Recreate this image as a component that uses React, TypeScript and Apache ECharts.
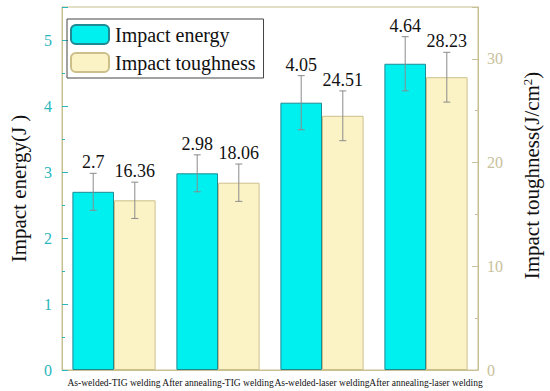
import React, { useEffect, useRef } from "react";
import * as echarts from "echarts";

const categories = [
  "As-welded-TIG welding",
  "After annealing-TIG welding",
  "As-welded-laser welding",
  "After annealing-laser welding",
];
const energyValues = [2.7, 2.98, 4.05, 4.64];
const energyErrors = [0.28, 0.28, 0.41, 0.41];
const toughnessValues = [16.36, 18.06, 24.51, 28.23];
const toughnessErrors = [1.75, 1.8, 2.4, 2.4];
const leftTicks = { min: 0, max: 5.5, interval: 1 };
const rightTicks = { min: 0, max: 35, interval: 10 };

const SERIF = "Liberation Serif";

function errorSeries(values: number[], errors: number[], yAxisIndex: number, offset: number) {
  return {
    type: "custom",
    yAxisIndex,
    z: 5,
    silent: true,
    data: values.map((v, i) => [i, v - errors[i], v + errors[i], v]),
    renderItem: (params: any, api: any) => {
      const idx = api.value(0);
      const lo = api.coord([idx, api.value(1)]);
      const hi = api.coord([idx, api.value(2)]);
      const band = api.size([1, 0])[0];
      const x = lo[0] + offset * band;
      const cap = 3.5;
      const st = { stroke: "#8a8a8a", lineWidth: 1 };
      return {
        type: "group",
        children: [
          { type: "line", shape: { x1: x, y1: lo[1], x2: x, y2: hi[1] }, style: st },
          { type: "line", shape: { x1: x - cap, y1: lo[1], x2: x + cap, y2: lo[1] }, style: st },
          { type: "line", shape: { x1: x - cap, y1: hi[1], x2: x + cap, y2: hi[1] }, style: st },
          {
            type: "text",
            style: {
              text: String(api.value(3)),
              x: x,
              y: hi[1] - 2,
              align: "center",
              verticalAlign: "bottom",
              fontSize: 18,
              fontFamily: SERIF,
              fill: "#111",
            },
          },
        ],
      };
    },
  };
}

export default function App() {
  const ref = useRef<HTMLDivElement>(null);
  useEffect(() => {
    if (!ref.current) return;
    const chart = echarts.init(ref.current, null, { renderer: "svg" });
    chart.setOption({
      animation: false,
      backgroundColor: "#ffffff",
      textStyle: { fontFamily: SERIF },
      grid: {
        left: 46,
        right: 55,
        top: 7,
        bottom: 21,
        show: true,
        borderColor: "#c8c08f",
        borderWidth: 1,
        backgroundColor: "transparent",
      },
      legend: {
        data: ["Impact energy", "Impact toughness"],
        orient: "vertical",
        left: 67,
        top: 19,
        itemWidth: 38,
        itemHeight: 19,
        itemGap: 7,
        padding: [5, 8, 5, 3],
        borderColor: "#444",
        borderWidth: 1,
        textStyle: { fontSize: 20, fontFamily: SERIF, color: "#111", padding: [0, 0, 0, 1] },
      },
      xAxis: {
        type: "category",
        data: categories,
        axisLine: { lineStyle: { color: "#c8c08f" } },
        axisTick: { show: false },
        axisLabel: { fontSize: 9.5, fontFamily: SERIF, color: "#111", margin: 8, interval: 0 },
      },
      yAxis: [
        {
          type: "value",
          position: "left",
          min: leftTicks.min,
          max: leftTicks.max,
          interval: leftTicks.interval,
          name: "Impact energy(J )",
          nameLocation: "middle",
          nameRotate: 90,
          nameGap: 33,
          nameTextStyle: { fontSize: 21, fontFamily: SERIF, color: "#111" },
          axisLine: { show: true, lineStyle: { color: "#c8c08f" } },
          axisTick: { show: true, inside: true, length: 6, lineStyle: { color: "#2bb5bd" } },
          minorTick: { show: true, splitNumber: 2, length: 3, lineStyle: { color: "#2bb5bd" } },
          axisLabel: { fontSize: 16, fontFamily: SERIF, color: "#2bb5bd", margin: 10, showMaxLabel: false },
          splitLine: { show: false },
        },
        {
          type: "value",
          position: "right",
          min: rightTicks.min,
          max: rightTicks.max,
          interval: rightTicks.interval,
          name: "Impact toughness(J/cm{sup|2})",
          nameLocation: "middle",
          nameRotate: 90,
          nameGap: 43,
          nameTextStyle: {
            fontSize: 21,
            fontFamily: SERIF,
            color: "#111",
            padding: [0, 0, 0, 26],
            rich: { sup: { fontSize: 13, fontFamily: SERIF, color: "#111", verticalAlign: "top", padding: [0, 0, 8, 0] } },
          },
          axisLine: { show: true, lineStyle: { color: "#c8c08f" } },
          axisTick: { show: true, inside: true, length: 6, lineStyle: { color: "#c9c19b" } },
          minorTick: { show: true, splitNumber: 2, length: 3, lineStyle: { color: "#c9c19b" } },
          axisLabel: { fontSize: 16, fontFamily: SERIF, color: "#c9c19b", margin: 9, showMaxLabel: false },
          splitLine: { show: false },
        },
      ],
      series: [
        {
          name: "Impact energy",
          type: "bar",
          yAxisIndex: 0,
          data: energyValues,
          barGap: "0%",
          barCategoryGap: "20%",
          itemStyle: { color: "#00f0f0", borderColor: "#1f8a94", borderWidth: 1 },
        },
        {
          name: "Impact toughness",
          type: "bar",
          yAxisIndex: 1,
          data: toughnessValues,
          barGap: "0%",
          barCategoryGap: "20%",
          itemStyle: { color: "#fbf3c6", borderColor: "#cdbf8a", borderWidth: 1 },
        },
        errorSeries(energyValues, energyErrors, 0, -0.2),
        errorSeries(toughnessValues, toughnessErrors, 1, 0.2),
      ],
    });
    return () => chart.dispose();
  }, []);
  return (
    <div
      ref={ref}
      style={{ position: "fixed", left: 0, top: 0, width: 550, height: 391 }}
    />
  );
}
